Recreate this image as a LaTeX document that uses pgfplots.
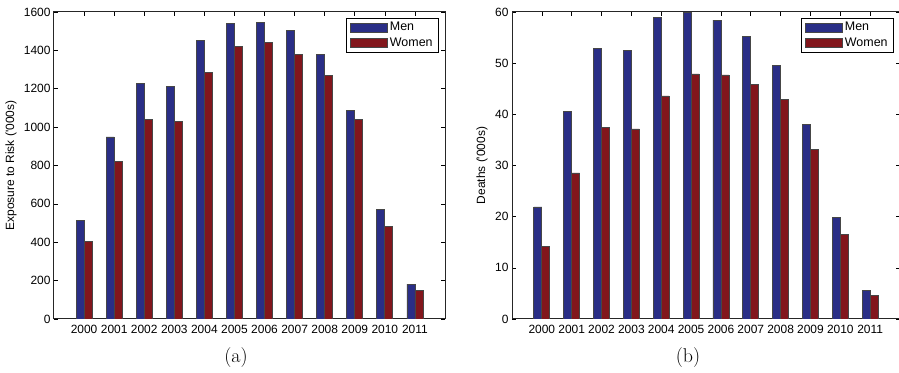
\documentclass[border=0pt]{standalone}
\usepackage{fontspec}
\usepackage{pgfplots}
\pgfplotsset{compat=1.18}
\newfontfamily\arial{Liberation Sans}
\definecolor{mblue}{RGB}{42,46,134}
\definecolor{mred}{RGB}{130,22,28}
\definecolor{edge}{RGB}{70,70,70}
\pgfplotsset{
  mystyle/.style={
    scale only axis,
    width=391bp, height=307bp,
    anchor=south west,
    ybar=0pt, bar width=8bp,
    xmin=-1, xmax=12, ymin=0,
    xtick={0,...,11},
    xticklabels={2000,2001,2002,2003,2004,2005,2006,2007,2008,2009,2010,2011},
    tick align=inside, tick pos=both,
    major tick length=4bp,
    tick style={black, line width=0.6bp},
    axis line style={black!85, line width=1bp},
    /pgf/number format/assume math mode=true,
    /pgf/number format/1000 sep={},
    ticklabel style={font=\arial\fontsize{12}{14}\selectfont},
    xticklabel style={yshift=-2.5bp},
    label style={font=\arial\fontsize{12}{14}\selectfont},
    legend style={draw=black, line width=0.8bp, inner xsep=4bp, inner ysep=2.5bp,
      font=\arial\fontsize{12.5}{14}\selectfont, cells={anchor=west},
      row sep=1.5bp},
    every axis plot post/.append style={
      draw=edge, line width=0.8bp,
      legend image code/.code={\draw[##1, line width=0.6bp] (0bp,-4.5bp) rectangle (37bp,4.5bp);}},
  }
}
\begin{document}
\begin{tikzpicture}
\path[use as bounding box] (0,0) rectangle (899bp,373bp);
\begin{axis}[mystyle, at={(54bp,54bp)},
  ymax=1600, ytick={0,200,...,1600},
  ylabel={Exposure to Risk ('000s)},
  ylabel style={at={(axis description cs:-0.11,0.5)}, anchor=center},
  legend style={at={(rel axis cs:0.9847,0.982)}, anchor=north east}]
\addplot[fill=mblue] coordinates {(0,513) (1,949) (2,1227) (3,1213) (4,1450) (5,1541) (6,1546) (7,1506) (8,1380) (9,1087) (10,569) (11,182)};
\addplot[fill=mred] coordinates {(0,406) (1,823) (2,1040) (3,1029) (4,1283) (5,1419) (6,1443) (7,1380) (8,1271) (9,1041) (10,481) (11,149)};
\legend{Men,Women}
\end{axis}
\begin{axis}[mystyle, at={(512bp,54bp)}, width=388bp,
  ymax=60, ytick={0,10,...,60},
  ylabel={Deaths ('000s)},
  ylabel style={at={(axis description cs:-0.0773,0.5)}, anchor=center},
  legend style={at={(rel axis cs:0.9845,0.982)}, anchor=north east}]
\addplot[fill=mblue] coordinates {(0,21.9) (1,40.55) (2,52.95) (3,52.55) (4,59.0) (5,60.0) (6,58.4) (7,55.2) (8,49.6) (9,38.1) (10,19.9) (11,5.54)};
\addplot[fill=mred] coordinates {(0,14.15) (1,28.55) (2,37.4) (3,37.15) (4,43.6) (5,47.9) (6,47.7) (7,45.9) (8,42.9) (9,33.1) (10,16.5) (11,4.6)};
\legend{Men,Women}
\end{axis}
\node[inner sep=0pt] at (236bp,15bp) {\fontsize{20}{24}\selectfont (a)};
\node[inner sep=0pt] at (688bp,15bp) {\fontsize{20}{24}\selectfont (b)};
\end{tikzpicture}
\end{document}
